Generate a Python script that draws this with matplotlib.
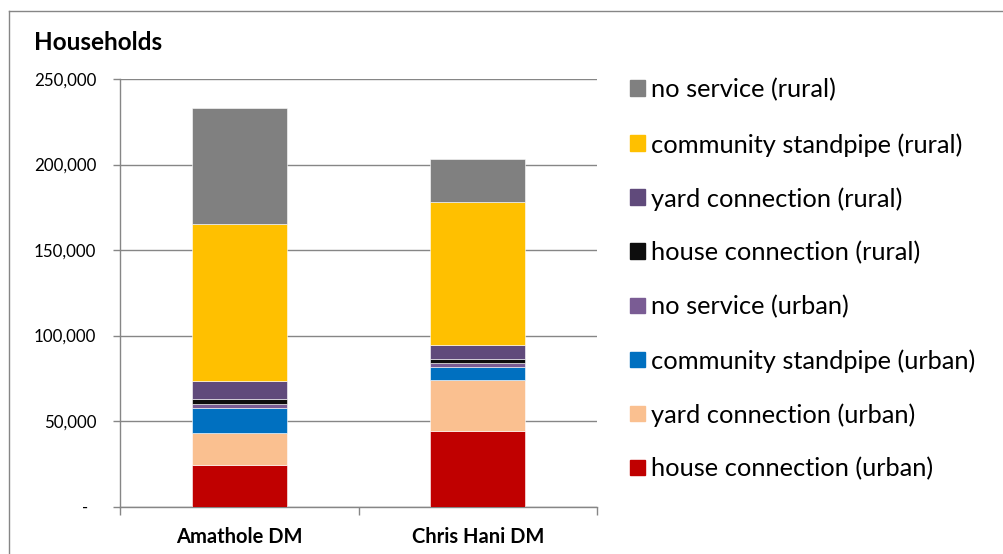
import matplotlib
matplotlib.use("Agg")
import matplotlib.pyplot as plt
from matplotlib.patches import Rectangle
from matplotlib.lines import Line2D

categories = ["Amathole DM", "Chris Hani DM"]
series_names = [
    "house connection (urban)",
    "yard connection (urban)",
    "community standpipe (urban)",
    "no service (urban)",
    "house connection (rural)",
    "yard connection (rural)",
    "community standpipe (rural)",
    "no service (rural)",
]
house_urban = [24300, 44300]
yard_urban = [18900, 29700]
standpipe_urban = [14600, 7800]
noservice_urban = [2000, 2150]
house_rural = [3100, 2350]
yard_rural = [10500, 8200]
standpipe_rural = [92000, 83500]
noservice_rural = [67600, 25100]
values = [house_urban, yard_urban, standpipe_urban, noservice_urban,
          house_rural, yard_rural, standpipe_rural, noservice_rural]
colors = ["#C00000", "#FAC090", "#0070C0", "#7A5C94",
          "#0D0D0D", "#604A7B", "#FFC000", "#808080"]
yticks = [0, 50000, 100000, 150000, 200000, 250000]
ytick_labels = ["-  ", "50,000", "100,000", "150,000", "200,000", "250,000"]

W, H = 1004, 554
fig = plt.figure(figsize=(W / 100, H / 100), dpi=100)
plt.rcParams['font.family'] = ['Lato', 'DejaVu Sans']

ax = fig.add_axes([120 / W, 1 - 506.5 / H, (597 - 120) / W, (506.5 - 79) / H])
x = list(range(len(categories)))
bottom = [0, 0]
for name, vals, c in zip(series_names, values, colors):
    ax.bar(x, vals, width=0.4, bottom=bottom, color=c, label=name,
           edgecolor="white", linewidth=0.4, zorder=3)
    bottom = [bo + v for bo, v in zip(bottom, vals)]

ax.set_xlim(-0.5, 1.5)
ax.set_ylim(0, 250000)
ax.set_yticks(yticks)
ax.set_yticklabels(ytick_labels, fontsize=12.2, color="#000000")
ax.yaxis.grid(True, color="#868686", linewidth=1, zorder=0)
ax.set_axisbelow(True)
ax.tick_params(axis="y", length=5, width=1, color="#868686", pad=12)

ax.set_xticks([-0.5, 0.5, 1.5])
ax.set_xticklabels([])
ax.set_xticks(x, minor=True)
ax.set_xticklabels(categories, minor=True, fontsize=14.5, fontweight="bold")
ax.tick_params(axis="x", which="major", length=6, width=1, color="#868686", direction="out")
ax.tick_params(axis="x", which="minor", length=0, pad=15)

for s in ["top", "right"]:
    ax.spines[s].set_visible(False)
for s in ["left", "bottom"]:
    ax.spines[s].set_color("#868686")
    ax.spines[s].set_linewidth(1)

fig.text(34 / W, 1 - 43 / H, "Households", fontsize=17.5, fontweight="bold",
         va="center", ha="left")

# legend (top entry = last series)
leg_y = [88, 143, 197, 251, 305, 359, 413, 467]
for i, (name, c) in enumerate(zip(series_names[::-1], colors[::-1])):
    yc = leg_y[i]
    fig.patches.append(Rectangle((630 / W, 1 - (yc + 7.5) / H), 15 / W, 15 / H,
                                 transform=fig.transFigure, color=c, figure=fig))
    fig.text(651 / W, 1 - (yc + 2) / H, name, fontsize=18.3, va="center", ha="left")

# outer frame
fig.add_artist(Line2D([9 / W, 9 / W], [0, 1 - 11 / H], transform=fig.transFigure,
                      color="#868686", linewidth=1))
fig.add_artist(Line2D([9 / W, 1], [1 - 11 / H, 1 - 11 / H], transform=fig.transFigure,
                      color="#868686", linewidth=1))

fig.savefig("out.png", dpi=100)
